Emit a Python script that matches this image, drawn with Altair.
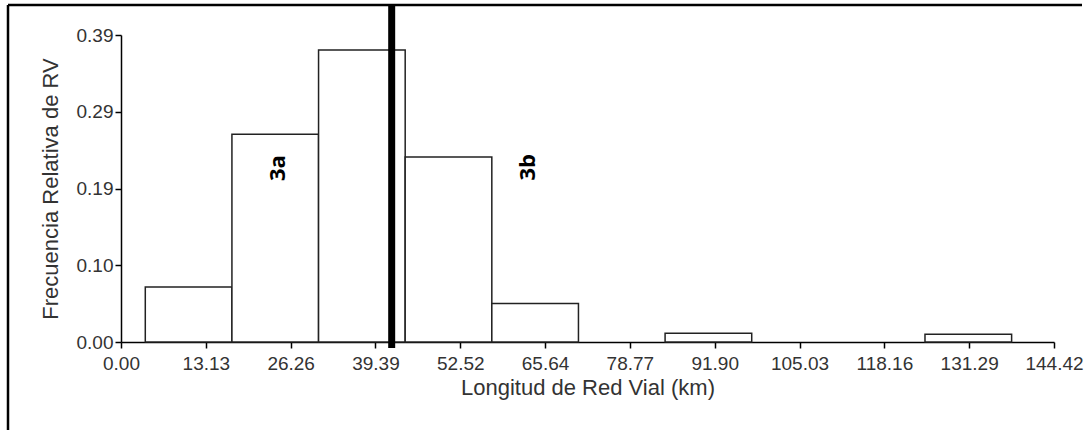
import altair as alt
import pandas as pd

# Histogram bins (km) and relative frequency
bin_left = [3.76, 17.17, 30.58, 43.99, 57.40, 84.22, 124.45]
bin_right = [17.17, 30.58, 43.99, 57.40, 70.81, 97.63, 137.86]
rel_freq = [0.070, 0.264, 0.371, 0.235, 0.049, 0.011, 0.010]

x_ticks = [0.00, 13.13, 26.26, 39.39, 52.52, 65.64, 78.77, 91.90, 105.03, 118.16, 131.29, 144.42]
y_ticks = [0.0, 0.0975, 0.195, 0.2925, 0.39]
y_tick_labels = ["0.00", "0.10", "0.19", "0.29", "0.39"]

cut_value = [41.9]
ann_text = ["3a", "3b"]
ann_x = [24.3, 63.0]
ann_y = [0.221, 0.222]

bars = pd.DataFrame({"l": bin_left, "r": bin_right, "f": rel_freq})
cut = pd.DataFrame({"x": cut_value})
ann = pd.DataFrame({"t": ann_text, "x": ann_x, "y": ann_y})

FONT = "Liberation Sans"

# label expression for y ticks
expr = "''"
for v, lab in reversed(list(zip(y_ticks, y_tick_labels))):
    expr = f"abs(datum.value - {v}) < 0.0001 ? '{lab}' : ({expr})"

xscale = alt.Scale(domain=[0, 144.42], nice=False, zero=False)
yscale = alt.Scale(domain=[0, 0.39], nice=False, zero=True)

xaxis = alt.Axis(
    values=x_ticks, format=".2f", title="Longitud de Red Vial (km)",
    grid=False, domainColor="black", domainWidth=1.5, tickColor="black",
    tickWidth=1.5, tickSize=6, labelFont=FONT, labelFontSize=19,
    labelColor="#333333", labelPadding=6, titleFont=FONT, titleFontSize=22,
    titleFontWeight="normal", titleColor="#333333", titlePadding=4,
    labelFlush=False, labelOverlap=False,
)
yaxis = alt.Axis(
    values=y_ticks, labelExpr=expr, title="Frecuencia Relativa de RV",
    grid=False, domainColor="black", domainWidth=1.5, tickColor="black",
    tickWidth=1.5, tickSize=6, labelFont=FONT, labelFontSize=19,
    labelColor="#333333", labelPadding=2, titleFont=FONT, titleFontSize=22,
    titleFontWeight="normal", titleColor="#333333", titlePadding=14,
    labelFlush=False, labelOverlap=False,
)

rects = alt.Chart(bars).mark_rect(fill="white", stroke="#222222", strokeWidth=1.5).encode(
    x=alt.X("l:Q", scale=xscale, axis=xaxis),
    x2="r:Q",
    y=alt.Y("f:Q", scale=yscale, axis=yaxis),
    y2=alt.datum(0),
)

cutline = alt.Chart(cut).mark_rule(color="black", strokeWidth=7, clip=False).encode(
    x=alt.X("x:Q", scale=xscale),
    y=alt.value(-30),
    y2=alt.value(313),
)

labels = alt.Chart(ann).mark_text(
    angle=270, font="Open Sans", fontWeight="bold", fontSize=22, color="black",
).encode(
    x=alt.X("x:Q", scale=xscale),
    y=alt.Y("y:Q", scale=yscale),
    text="t:N",
)

frame_top = alt.Chart(cut).mark_rule(color="black", strokeWidth=2.5, clip=False).encode(
    x=alt.value(-113), x2=alt.value(961), y=alt.value(-30),
)
frame_left = alt.Chart(cut).mark_rule(color="black", strokeWidth=2.5, clip=False).encode(
    x=alt.value(-113), y=alt.value(-30), y2=alt.value(400),
)

chart = alt.layer(rects, cutline, labels, frame_top, frame_left).properties(
    width=933, height=307,
    autosize=alt.AutoSizeParams(type="none"),
    padding={"left": 121, "top": 35, "right": 37, "bottom": 88},
    background="white",
).configure_view(stroke=None)

chart.save("out.html", embed_options={"renderer": "svg", "actions": False})
